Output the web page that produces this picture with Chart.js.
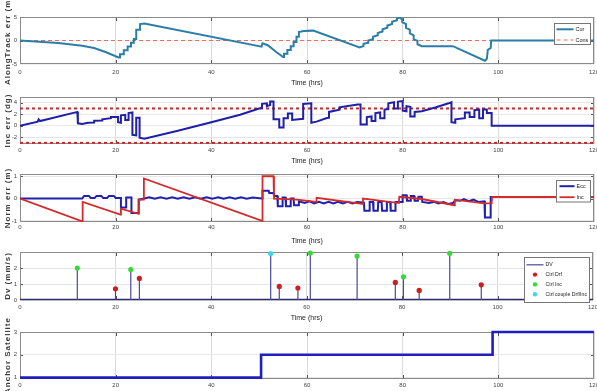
<!DOCTYPE html>
<html>
<head>
<meta charset="utf-8">
<script src="https://cdn.jsdelivr.net/npm/chart.js@4/dist/chart.umd.min.js"></script>
<style>
  html, body { margin: 0; padding: 0; background: #fff; width: 597px; height: 391px; overflow: hidden; position: relative; }
  canvas { position: absolute; left: 0; }
</style>
</head>
<body>
<canvas id="pAlong" width="597" height="88" style="top:0px"></canvas>
<canvas id="pInc" width="597" height="78" style="top:88px"></canvas>
<canvas id="pNorm" width="597" height="80" style="top:166px"></canvas>
<canvas id="pDv" width="597" height="77" style="top:246px"></canvas>
<canvas id="pAnchor" width="597" height="75" style="top:316px"></canvas>
<script>
// ---- time axis ----
const timeTicks = [0, 20, 40, 60, 80, 100, 120];

// ---- along-track error (m): [hours, value] ----
const alongCur = [
  [0, 0], [4, -0.25], [8, -0.55], [13, -1.1], [15.5, -1.6], [18, -2.5], [20.6, -3.6],
  [20.9, -3.6], [20.9, -2.9], [21.7, -2.9], [21.7, -2.1], [22.5, -2.1], [22.5, -1.3], [23.2, -1.3],
  [23.2, -0.5], [23.8, -0.5], [23.8, 0.3], [24.3, 0.3], [24.3, 2.3], [25.1, 2.3], [25.1, 3.5], [26, 3.6],
  [50.5, -1.3], [50.7, -0.6], [51.8, -1.0], [53.5, -2.4], [55, -3.5],
  [55.2, -3.5], [55.2, -2.8], [55.9, -2.8], [55.9, -2.0], [56.6, -2.0], [56.6, -1.2], [57.2, -1.2],
  [57.2, -0.3], [57.8, -0.3], [57.8, 0.8], [58.3, 0.8], [58.3, 1.8], [59.3, 2.0], [61.3, 2.1],
  [71, -1.5], [71.8, -1.2], [71.8, -0.7], [72.8, -0.5], [72.8, 0.0], [73.8, 0.3], [73.8, 0.8],
  [74.8, 1.1], [74.8, 1.6], [75.8, 1.9], [75.8, 2.4], [76.8, 2.7], [76.8, 3.2], [77.8, 3.5],
  [77.8, 4.0], [78.8, 4.3], [78.8, 4.7], [79.3, 4.9],
  [79.9, 4.5], [79.9, 3.9], [80.7, 3.5], [80.7, 2.7], [81.5, 2.3], [81.5, 1.5], [82.3, 1.1],
  [82.3, 0.3], [83.1, -0.1], [83.1, -0.8], [84, -1.2],
  [90.5, -1.2], [97.2, -4.3], [97.6, -3.9], [97.8, -2.0], [98.4, -1.6], [98.5, 0], [120, 0]
];
const alongCons = [[0, 0], [120, 0]];

// ---- inclination error (deg) ----
const incErr = [
  [0, 0], [3.7, 0.7], [3.9, 1.1], [4.2, 0.8], [12, 2.4], [12.1, 0.4], [13, 0.3], [14.2, 0.5],
  [15.5, 0.55], [15.5, 0.85], [17.2, 0.9], [17.2, 1.1], [19, 1.3], [19, 1.5], [20.5, 1.5],
  [20.5, 0.6], [21.1, 0.5], [21.1, 1.8], [22, 1.9], [22, 1.0], [22.7, 1.0], [22.7, 2.2], [23.5, 2.3],
  [23.5, -1.6], [24.3, -1.7], [24.3, 1.4], [25, 1.4], [25, -2.1], [26, -2.3],
  [33, -0.9], [40, 0.6], [46, 1.9], [50, 3.0], [50.6, 3.1], [50.6, 3.8], [51.6, 3.9], [51.6, 3.4],
  [52.3, 3.6], [52.3, 4.2], [53, 4.2], [53, 1.1], [54.2, 1.1], [54.2, -0.3], [55.1, -0.3],
  [55.1, 1.3], [56, 1.3], [56, 2.1], [56.9, 2.1], [56.9, 1.0], [59.2, 1.2], [59.2, 3.8],
  [60.9, 3.9], [60.9, 0.5], [62, 0.7], [64, 1.3], [64.6, 1.4], [64.6, 2.4], [66.8, 2.8],
  [66.8, 3.2], [70.6, 3.7], [71.2, 3.7], [71.2, 0.2], [72.5, 0.2], [72.5, 1.5], [73.5, 1.6],
  [73.5, 0.8], [74.3, 0.8], [74.3, 2.2], [75.3, 2.3], [75.3, 1.3], [76.2, 1.3], [76.2, 2.8],
  [77, 2.9], [77, 3.9], [78.2, 4.1], [78.2, 3.0], [79, 3.0], [79, 4.2], [80, 4.3], [80, 2.6],
  [80.8, 2.5], [80.8, 3.4], [81.6, 3.3], [81.6, 1.6], [82.5, 1.6], [82.5, 2.4], [84, 2.5],
  [87, 3.2], [89.6, 3.9], [90.2, 4.1], [90.2, 0.6], [91, 0.5], [91, 1.1], [93, 1.3], [93, 2.3],
  [94, 2.3], [94, 1.5], [95, 1.5], [95, 2.7], [96, 2.8], [96, 1.3], [96.8, 1.3], [96.8, 2.8],
  [97.6, 2.8], [97.6, 2.2], [98.6, 2.2], [98.6, 0], [120, 0]
];
const incLimits = [3, -3];

// ---- normal error (m) ----
const normEcc = [
  [0, 0], [13, 0], [13.4, 0.12], [14.4, 0.12], [14.8, 0.03], [15.6, 0.03], [16, 0.12], [17, 0.12],
  [17.4, 0.03], [18.2, 0.03], [18.6, 0.12], [19.6, 0.12], [20, 0.03], [21.1, 0.03], [21.1, -0.4],
  [22.2, -0.4], [22.2, 0.05], [23.3, 0.05], [23.3, -0.65], [24.8, -0.65], [24.8, -0.05], [26, 0.0],
  [27, 0.06], [28.2, -0.01], [29.4, 0.06], [30.6, -0.01], [31.8, 0.06], [33, -0.01], [34.2, 0.06],
  [35.4, -0.01], [36.6, 0.06], [37.8, -0.01], [39, 0.06], [40.2, -0.01], [41.4, 0.06], [42.6, -0.01],
  [43.8, 0.06], [45, -0.01], [46.2, 0.06], [47.4, -0.01], [48.6, 0.05], [50.6, 0.0], [50.7, 0.35],
  [52, 0.35], [52.1, 0.25], [53, 0.25], [53.1, 0.12], [53.8, 0.12], [53.9, -0.35], [54.8, -0.35],
  [54.9, 0.05], [55.5, 0.05], [55.6, -0.35], [56.5, -0.35], [56.6, 0.0], [57.2, 0.0], [57.3, -0.3],
  [58.2, -0.3], [58.3, -0.12], [59.5, -0.2], [60.5, -0.12], [61.5, -0.22], [62.5, -0.15],
  [63.5, -0.22], [64.5, -0.15], [65.5, -0.22], [66.5, -0.15], [67.5, -0.22], [68.5, -0.15],
  [69.5, -0.22], [70.5, -0.15], [71.9, -0.18], [72, -0.55], [73, -0.55], [73.1, -0.15],
  [73.8, -0.15], [73.9, -0.55], [74.8, -0.55], [74.9, -0.15], [75.6, -0.15], [75.7, -0.55],
  [76.6, -0.55], [76.7, -0.15], [77.4, -0.15], [77.5, -0.55], [78.4, -0.55], [78.5, -0.15],
  [79.9, -0.15], [80, 0.15], [80.8, 0.15], [80.9, -0.1], [81.6, -0.1], [81.7, 0.12], [82.4, 0.12],
  [82.5, -0.1], [83.2, -0.1], [83.3, 0.08], [84, 0.08], [84.1, -0.15], [85.5, -0.2], [86.5, -0.15],
  [87.5, -0.22], [88.5, -0.16], [89.5, -0.24], [90.5, -0.2], [91, -0.08], [92, -0.1], [92.8, -0.02],
  [93.8, -0.12], [94.8, -0.05], [95.8, -0.15], [97.1, -0.12], [97.2, -0.85], [98.3, -0.85],
  [98.4, 0.07], [120, 0.07]
];
const normInc = [
  [0, 0], [13, -1.02], [13.1, -0.15], [21, -0.72], [21.1, -0.45], [24.8, -0.68], [24.9, -0.05],
  [25.8, -0.05], [25.9, 0.9], [50.6, -1.0], [50.7, 1.0], [53, 1.0], [53.1, 0.0], [58, -0.05],
  [61.9, -0.15], [62, 0.03], [71.6, -0.24], [71.7, 0.0], [79.2, -0.2], [79.3, 0.08], [84, -0.02],
  [90.8, -0.3], [90.9, -0.05], [97, -0.22], [98.6, -0.22], [98.7, 0.07], [120, 0.07]
];

// ---- delta-v manoeuvres (mm/s) ----
const drfTimes = [20, 25, 54.3, 58.2, 78.6, 83.6, 96.6];
const drfDv = [0.7, 1.35, 0.85, 0.75, 1.1, 0.6, 0.95];
const incTimes = [12, 23.2, 60.8, 70.6, 80.3, 90];
const incDv = [2.0, 1.9, 2.93, 2.75, 1.45, 2.92];
const coupleTimes = [52.5];
const coupleDv = [2.9];

// ---- anchor satellite index ----
const anchorTimes = [0, 50.4, 98.8, 120];
const anchorSat = [1, 2, 3, 3];

// ---------------------------------------------------------------
const FONT = '"Liberation Sans", Arial, sans-serif';
const xy = pairs => pairs.map(([x, y]) => ({ x, y }));
const zipXY = (xs, ys) => xs.map((x, i) => ({ x, y: ys[i] }));
function stemPoints(times, values) {
  const out = [];
  times.forEach((t, i) => { out.push({ x: t, y: 0 }, { x: t, y: values[i] }, { x: t, y: null }); });
  return out;
}

// plot box, inner tick marks and an optional stem baseline
const panelFrame = {
  id: 'panelFrame',
  beforeDatasetsDraw(chart, args, opts) {
    const { ctx, chartArea: a, scales } = chart;
    ctx.save();
    ctx.lineWidth = 1;
    ctx.strokeStyle = '#555';
    ctx.beginPath();
    scales.x.ticks.forEach(t => {
      const px = Math.round(scales.x.getPixelForValue(t.value)) + 0.5;
      if (px <= a.left + 2 || px >= a.right - 2) return;
      ctx.moveTo(px, a.top); ctx.lineTo(px, a.top + 4);
      ctx.moveTo(px, a.bottom); ctx.lineTo(px, a.bottom - 4);
    });
    scales.y.ticks.forEach(t => {
      const py = Math.round(scales.y.getPixelForValue(t.value)) + 0.5;
      if (py <= a.top + 2 || py >= a.bottom - 2) return;
      ctx.moveTo(a.left, py); ctx.lineTo(a.left + 3, py);
      ctx.moveTo(a.right, py); ctx.lineTo(a.right - 3, py);
    });
    ctx.stroke();
    ctx.strokeStyle = '#8a8a8a';
    ctx.strokeRect(Math.round(a.left) + 0.5, Math.round(a.top) + 0.5, Math.round(a.width) - 1, Math.round(a.height) - 1);
    if (opts && opts.baseline) {
      const y0 = scales.y.getPixelForValue(0) - 0.5;
      ctx.strokeStyle = opts.baseline;
      ctx.lineWidth = 1.6;
      ctx.beginPath(); ctx.moveTo(a.left, y0); ctx.lineTo(a.right, y0); ctx.stroke();
    }
    ctx.restore();
  }
};

// rotated y-axis caption, free to run past the plot height
const sideTitle = {
  id: 'sideTitle',
  afterDraw(chart, args, opts) {
    if (!opts || !opts.text) return;
    const { ctx, chartArea: a } = chart;
    ctx.save();
    ctx.translate(8, (a.top + a.bottom) / 2);
    ctx.rotate(-Math.PI / 2);
    ctx.font = 'bold 8px ' + FONT;
    if ('letterSpacing' in ctx) ctx.letterSpacing = '1px';
    ctx.fillStyle = '#3a3a3a';
    ctx.textAlign = 'center';
    ctx.textBaseline = 'middle';
    ctx.fillText(opts.text, 0, 0);
    ctx.restore();
  }
};

// boxed legend in the top-right corner of the plot
const boxLegend = {
  id: 'boxLegend',
  afterDraw(chart, args, o) {
    if (!o || !o.width) return;
    const { ctx, chartArea: a } = chart;
    const x = Math.round(a.right - o.right - o.width) + 0.5;
    const y = Math.round(a.top + o.top) + 0.5;
    ctx.save();
    ctx.fillStyle = '#fff';
    ctx.fillRect(x, y, o.width, o.height);
    ctx.strokeStyle = '#777';
    ctx.lineWidth = 1;
    ctx.strokeRect(x, y, o.width, o.height);
    ctx.font = o.fontSize + 'px ' + FONT;
    ctx.textBaseline = 'middle';
    let row = 0;
    chart.data.datasets.forEach(ds => {
      if (!ds.label) return;
      const ry = y + o.first + row * o.row;
      const lx = x + o.pad;
      if (ds.showLine === false) {
        ctx.fillStyle = ds.pointBackgroundColor;
        ctx.beginPath(); ctx.arc(lx + o.sample / 2, ry, 2.2, 0, Math.PI * 2); ctx.fill();
      } else {
        ctx.strokeStyle = ds.borderColor;
        ctx.lineWidth = Math.min(ds.borderWidth, 2);
        ctx.setLineDash(ds.borderDash || []);
        ctx.beginPath(); ctx.moveTo(lx, ry); ctx.lineTo(lx + o.sample, ry); ctx.stroke();
        ctx.setLineDash([]);
      }
      ctx.fillStyle = '#222';
      ctx.fillText(ds.label, lx + o.sample + 2, ry);
      row++;
    });
    ctx.restore();
  }
};

function panel(id, cfg) {
  const el = document.getElementById(id);
  const H = el.height;
  const ct = parseFloat(el.style.top);
  const padBottom = cfg.padBottom ?? 1;
  const xh = H - padBottom - (cfg.plotBottom - ct);
  return new Chart(el, {
    type: 'line',
    data: { datasets: cfg.datasets },
    options: {
      responsive: false,
      animation: false,
      devicePixelRatio: 1,
      events: [],
      layout: { padding: { top: cfg.plotTop - ct, right: 3, left: 0, bottom: padBottom } },
      elements: { point: { radius: 0 }, line: { tension: 0 } },
      plugins: {
        legend: { display: false },
        tooltip: { enabled: false },
        sideTitle: { text: cfg.yTitle },
        boxLegend: cfg.legend || {},
        panelFrame: { baseline: cfg.baseline }
      },
      scales: {
        x: {
          type: 'linear', min: 0, max: 120,
          afterBuildTicks: s => { s.ticks = timeTicks.map(v => ({ value: v })); },
          afterFit: s => { s.height = xh; s.paddingLeft = 0; s.paddingRight = 0; },
          grid: { color: '#dadada', drawTicks: false },
          border: { display: false },
          ticks: { font: { family: FONT, size: 6 }, color: '#444', padding: cfg.xTickPad, maxRotation: 0, autoSkip: false, callback: v => String(v) },
          title: { display: !!cfg.xTitle, text: cfg.xTitle || '', font: { family: FONT, size: 7 }, color: '#222', padding: 0 }
        },
        y: {
          type: 'linear', min: cfg.yMin, max: cfg.yMax,
          afterBuildTicks: s => { s.ticks = cfg.yTicks.map(v => ({ value: v })); },
          afterFit: s => { s.width = 20; s.paddingTop = 0; s.paddingBottom = 0; },
          grid: { color: cfg.yGrid || '#e8e8e8', drawTicks: false },
          border: { display: false },
          ticks: { font: { family: FONT, size: 6 }, color: '#444', padding: 3, callback: v => String(v) }
        }
      }
    },
    plugins: [panelFrame, sideTitle, boxLegend]
  });
}

// 1. along-track error
panel('pAlong', {
  plotTop: 17, plotBottom: 64, xTickPad: 4.5, xTitle: 'Time (hrs)',
  yMin: -5, yMax: 5, yTicks: [-5, 0, 5], yGrid: '#f0f0f0', yTitle: 'AlongTrack err (m)',
  legend: { right: 4, top: 5.5, width: 36, height: 21, first: 5.8, row: 10.7, pad: 2, sample: 17, fontSize: 5.5 },
  datasets: [
    { label: 'Cur', data: xy(alongCur), borderColor: '#2b7ea8', borderWidth: 2, order: 0 },
    { label: 'Cons', data: xy(alongCons), borderColor: '#e8705e', borderWidth: 1.2, borderDash: [4, 3], order: 1 }
  ]
});

// 2. inclination error
panel('pInc', {
  plotTop: 97, plotBottom: 144, xTickPad: 2.8, xTitle: 'Time (hrs)',
  yMin: -3.2, yMax: 5, yTicks: [-2, 0, 2, 4], yTitle: 'Inc err (dg)',
  datasets: [
    { data: xy(incErr), borderColor: '#1f1fa8', borderWidth: 2, order: 0 },
    ...incLimits.map(v => ({ data: [{ x: 0, y: v }, { x: 120, y: v }], borderColor: '#c62a2a', borderWidth: 2, borderDash: [3, 3], order: 1 }))
  ]
});

// 3. normal error
panel('pNorm', {
  plotTop: 174, plotBottom: 222, xTickPad: 1.8, xTitle: 'Time (hrs)',
  yMin: -1.05, yMax: 1.1, yTicks: [-1, 0, 1], yTitle: 'Norm err (m)',
  legend: { right: 4, top: 6, width: 34, height: 21.5, first: 5.7, row: 11, pad: 3, sample: 15, fontSize: 5.5 },
  datasets: [
    { label: 'Ecc', data: xy(normEcc), borderColor: '#2121b0', borderWidth: 2, order: 1 },
    { label: 'Inc', data: xy(normInc), borderColor: '#d42a2a', borderWidth: 1.8, order: 0 }
  ]
});

// 4. delta-v stems
const dot = (label, color, times, values) => ({
  label, data: zipXY(times, values), showLine: false, pointRadius: 2.6, pointBorderWidth: 0,
  pointBackgroundColor: color, borderColor: color, clip: false, order: 0
});
panel('pDv', {
  plotTop: 252, plotBottom: 300, xTickPad: 3.4, xTitle: 'Time (hrs)',
  yMin: 0, yMax: 3, yTicks: [0, 1, 2], yGrid: '#e4e6ee', yTitle: 'Dv (mm/s)', baseline: '#2c2c6a',
  legend: { right: 4, top: 4.7, width: 65, height: 45, first: 7.3, row: 9.8, pad: 2, sample: 17, fontSize: 5.2 },
  datasets: [
    { label: 'DV', data: stemPoints([...drfTimes, ...incTimes, ...coupleTimes], [...drfDv, ...incDv, ...coupleDv]),
      borderColor: '#4a4a98', borderWidth: 1.2, spanGaps: false, order: 5 },
    dot('Ctrl Drf', '#cc1f1f', drfTimes, drfDv),
    dot('Ctrl Inc', '#36d936', incTimes, incDv),
    dot('Ctrl couple Drf/Inc', '#3fd9e0', coupleTimes, coupleDv)
  ]
});

// 5. anchor satellite
panel('pAnchor', {
  plotTop: 332, plotBottom: 379, padBottom: 0, xTickPad: 2.4,
  yMin: 0.94, yMax: 3, yTicks: [1, 2, 3], yTitle: 'Anchor Satellite',
  datasets: [
    { data: zipXY(anchorTimes, anchorSat), borderColor: '#1f1fc0', borderWidth: 2.6, stepped: true, clip: false }
  ]
});
</script>
</body>
</html>
